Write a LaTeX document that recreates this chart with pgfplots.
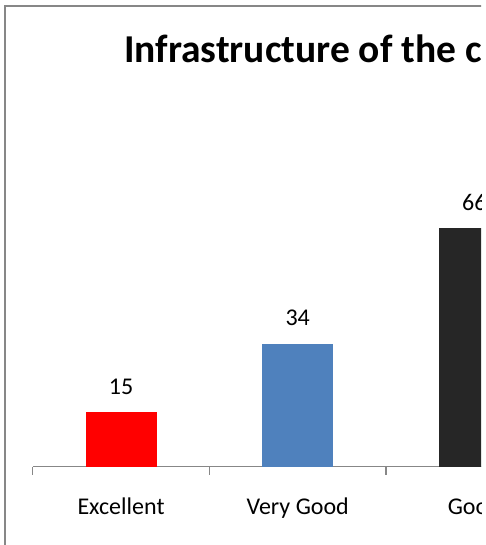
\documentclass[border=0pt]{standalone}
\usepackage{pgfplots}
\pgfplotsset{compat=1.18}
\usepackage{fontspec}
\setmainfont{Carlito}
\definecolor{cred}{HTML}{FF0000}
\definecolor{cblue}{HTML}{4F81BD}
\definecolor{cdark}{HTML}{262626}
\definecolor{cgray}{HTML}{878787}
\begin{document}
\begin{tikzpicture}
\useasboundingbox (0bp,0bp) rectangle (486bp,545bp);
\begin{scope}
\clip (0bp,0bp) rectangle (481bp,545bp);
\draw[cgray, line width=2bp] (5bp,-5bp) -- (5bp,538.5bp) -- (490bp,538.5bp);
\node[anchor=base west, font=\bfseries\fontsize{39.5bp}{44bp}\selectfont, inner sep=0pt] at (124bp,482bp) {Infrastructure of the c};
\begin{axis}[
  at={(32.7bp,78.5bp)}, anchor=south west,
  scale only axis, width=530bp, height=288.8bp,
  xmin=-0.5, xmax=2.5, ymin=0, ymax=80,
  axis x line*=bottom, axis y line=none,
  x axis line style={cgray, line width=1.5bp},
  xtick={0,1,2}, xticklabels={Excellent, Very Good, Good},
  major tick length=0pt,
  minor xtick={-0.5,0.5,1.5,2.5}, minor tick length=8bp, tick align=outside,
  minor tick style={cgray, line width=1.5bp},
  xticklabel style={anchor=base, inner sep=0pt, yshift=-48bp, font=\fontsize{24bp}{28bp}\selectfont},
  ytick=\empty,
  ybar, bar width=71bp,
  nodes near coords,
  every node near coord/.append style={anchor=base, inner sep=0pt, yshift=18bp, font=\fontsize{24bp}{28bp}\selectfont, black},
  /pgf/number format/assume math mode=true,
  clip=false,
]
\addplot[fill=cred, draw=none, bar shift=0pt] coordinates {(0,15)};
\addplot[fill=cblue, draw=none, bar shift=0pt] coordinates {(1,34)};
\addplot[fill=cdark, draw=none, bar shift=0pt] coordinates {(2,66)};
\end{axis}
\end{scope}
\end{tikzpicture}
\end{document}
